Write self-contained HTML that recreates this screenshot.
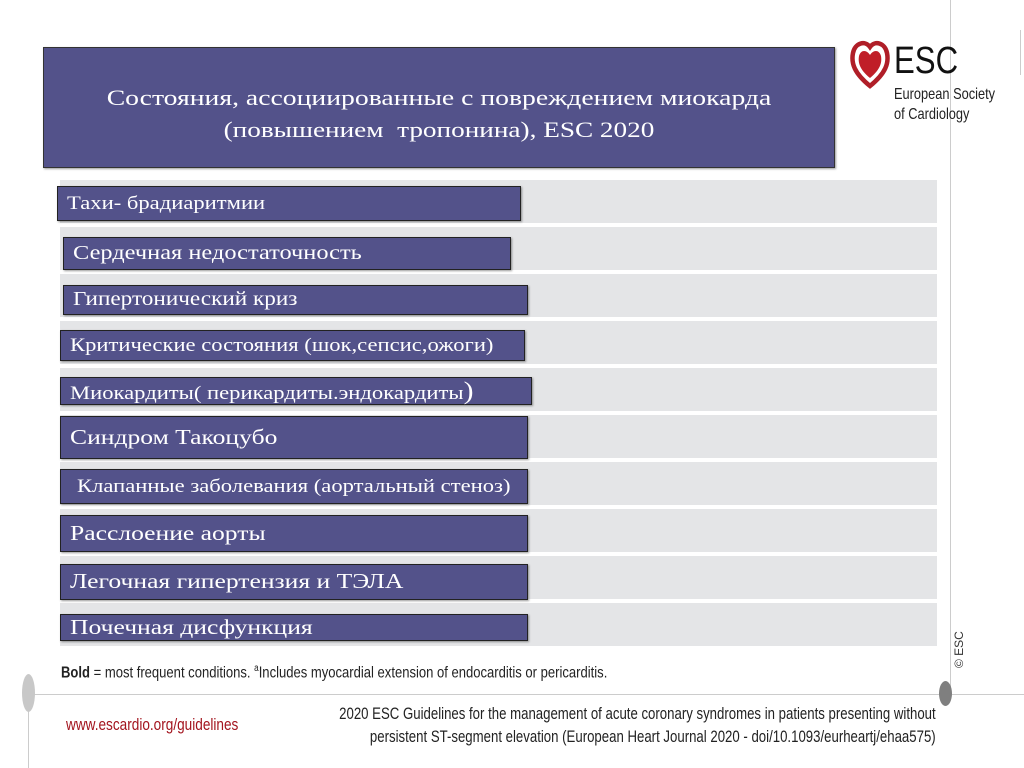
<!DOCTYPE html>
<html><head><meta charset="utf-8"><style>
body{margin:0;width:1024px;height:768px;background:#fff;position:relative;overflow:hidden;font-family:"Liberation Serif",serif}
.abs{position:absolute}
.row{position:absolute;left:60px;width:877px;background:#e4e5e7}
.bar{position:absolute;background:#53528a;border:1px solid #222;box-shadow:1px 1px 2px rgba(0,0,0,.4);color:#fff;font-size:19px;line-height:1;display:flex;align-items:center;padding-left:9px;box-sizing:border-box;white-space:nowrap}
.bar span.t{display:inline-block;transform:scaleX(1.19);transform-origin:left}
</style></head><body>
<div class="abs" style="left:950px;top:0;width:1px;height:690px;background:#ccc"></div>
<div class="abs" style="left:1020px;top:30px;width:1px;height:45px;background:#ccc"></div>
<div class="abs" style="left:30px;top:694px;width:994px;height:1px;background:#ccc"></div>
<div class="abs" style="left:28px;top:694px;width:1px;height:74px;background:#ccc"></div>
<div class="abs" style="left:22px;top:674px;width:13px;height:38px;border-radius:50%;background:#c8c8c8"></div>
<div class="abs" style="left:939px;top:681px;width:13px;height:25px;border-radius:50%;background:#7f7f7f"></div>

<div class="abs" style="left:43px;top:47px;width:792px;height:121px;background:#53528a;border:1px solid #333;box-shadow:1px 1px 2px rgba(0,0,0,.4);box-sizing:border-box;color:#fff;font-size:22.5px;text-align:center;line-height:32px;padding-top:34px">
<div style="transform:scaleX(1.23)">Состояния, ассоциированные с повреждением миокарда</div><div style="transform:scaleX(1.21)">(повышением&nbsp; тропонина), ESC 2020</div></div>

<div class="abs" style="left:850px;top:38px;width:170px;height:95px">
<svg width="40" height="52" style="position:absolute;left:0;top:0" viewBox="0 0 40 52"><path d="M20 48 C4 35 1 25 3 15 C5 5 15 2 20 9 C25 2 35 5 37 15 C39 25 36 35 20 48Z" fill="none" stroke="#b01e28" stroke-width="4.5"/><path d="M20 40 C9 31 8 24 9 18 C11 11 17 12 20 17 C23 12 29 11 31 18 C32 24 31 31 20 40Z" fill="#c01e28"/></svg>
<div class="abs" style="left:44px;top:4px;font-family:'Liberation Sans',sans-serif;font-size:38px;line-height:38px;color:#111;transform:scaleX(.82);transform-origin:left">ESC</div>
<div class="abs" style="left:44px;top:47px;font-family:'Liberation Sans',sans-serif;font-size:16px;line-height:20px;color:#222;transform:scaleX(.8);transform-origin:left;white-space:nowrap">European Society<br>of Cardiology</div>
</div>

<div class="row" style="top:180px;height:43px"></div>
<div class="row" style="top:227px;height:43px"></div>
<div class="row" style="top:274px;height:43px"></div>
<div class="row" style="top:321px;height:43px"></div>
<div class="row" style="top:368px;height:43px"></div>
<div class="row" style="top:415px;height:43px"></div>
<div class="row" style="top:462px;height:43px"></div>
<div class="row" style="top:509px;height:43px"></div>
<div class="row" style="top:556px;height:43px"></div>
<div class="row" style="top:603px;height:43px"></div>

<div class="bar" style="left:57px;top:186px;width:464px;height:35px;font-size:19px"><span class="t">Тахи- брадиаритмии</span></div>
<div class="bar" style="left:63px;top:237px;width:448px;height:33px;font-size:20.5px"><span class="t">Сердечная недостаточность</span></div>
<div class="bar" style="left:63px;top:285px;width:465px;height:30px;font-size:19.5px"><span class="t">Гипертонический криз</span></div>
<div class="bar" style="left:60px;top:330px;width:465px;height:31px;font-size:19px"><span class="t">Критические состояния (шок,сепсис,ожоги)</span></div>
<div class="bar" style="left:60px;top:377px;width:472px;height:28px;font-size:19px"><span class="t">Миокардиты( перикардиты.эндокардиты<span style="font-size:25px">)</span></span></div>
<div class="bar" style="left:60px;top:416px;width:468px;height:43px;font-size:21.5px"><span class="t">Синдром Такоцубо</span></div>
<div class="bar" style="left:60px;top:469px;width:468px;height:35px;font-size:19px;padding-left:16px"><span class="t">Клапанные заболевания (аортальный стеноз)</span></div>
<div class="bar" style="left:60px;top:515px;width:468px;height:37px;font-size:21.5px"><span class="t">Расслоение аорты</span></div>
<div class="bar" style="left:60px;top:564px;width:468px;height:36px;font-size:21.5px"><span class="t">Легочная гипертензия и ТЭЛА</span></div>
<div class="bar" style="left:60px;top:614px;width:468px;height:27px;font-size:21.5px"><span class="t">Почечная дисфункция</span></div>

<div class="abs" style="left:952px;top:668px;font-family:'Liberation Sans',sans-serif;font-size:12px;color:#333;transform:rotate(-90deg);transform-origin:left top;white-space:nowrap">© ESC</div>

<div class="abs" style="left:61px;top:663px;font-family:'Liberation Sans',sans-serif;font-size:16px;color:#222;white-space:nowrap;transform:scaleX(.815);transform-origin:left"><b>Bold</b> = most frequent conditions. <sup style="font-size:10px">a</sup>Includes myocardial extension of endocarditis or pericarditis.</div>

<div class="abs" style="left:66px;top:715px;font-family:'Liberation Sans',sans-serif;font-size:17px;color:#a3141e;white-space:nowrap;transform:scaleX(.8);transform-origin:left">www.escardio.org/guidelines</div>
<div class="abs" style="right:88px;top:703px;font-family:'Liberation Sans',sans-serif;font-size:16.5px;line-height:23px;color:#222;text-align:right;white-space:nowrap;transform:scaleX(.8);transform-origin:right">2020 ESC Guidelines for the management of acute coronary syndromes in patients presenting without<br>persistent ST-segment elevation (European Heart Journal 2020 - doi/10.1093/eurheartj/ehaa575)</div>
</body></html>
